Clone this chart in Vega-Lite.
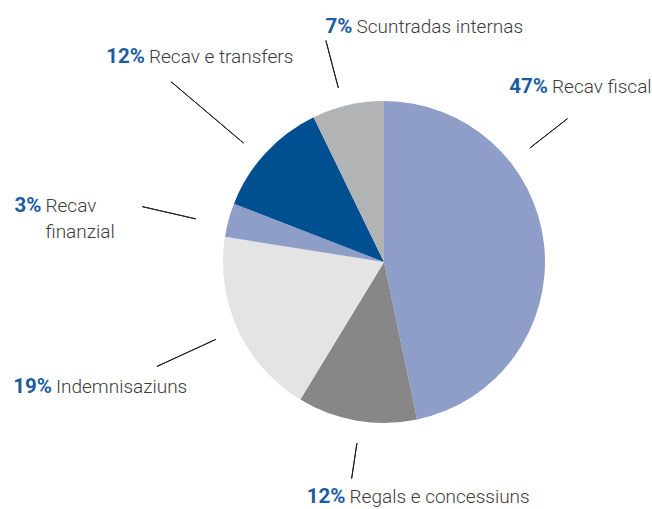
{
  "$schema": "https://vega.github.io/schema/vega-lite/v6.json",
  "width": 536,
  "height": 494,
  "autosize": {"type": "none"},
  "padding": {"left": 116, "top": 15, "right": 0, "bottom": 0},
  "background": "white",
  "view": {"stroke": null},
  "data": {
    "values": [
      {"order": 1, "name": "Recav fiscal", "label": "Recav fiscal", "share": 0.467},
      {"order": 2, "name": "Regals e concessiuns", "label": "Regals e concessiuns", "share": 0.120},
      {"order": 3, "name": "Indemnisaziuns", "label": "Indemnisaziuns", "share": 0.188},
      {"order": 4, "name": "Recav finanzial", "label": "Recav\nfinanzial", "share": 0.034},
      {"order": 5, "name": "Recav e transfers", "label": "Recav e transfers", "share": 0.119},
      {"order": 6, "name": "Scuntradas internas", "label": "Scuntradas internas", "share": 0.072}
    ]
  },
  "encoding": {
    "theta": {"field": "share", "type": "quantitative", "stack": true},
    "order": {"field": "order", "type": "quantitative"},
    "detail": {"field": "name", "type": "nominal"}
  },
  "layer": [
    {
      "mark": {"type": "arc", "outerRadius": 161},
      "encoding": {
        "color": {
          "field": "name",
          "type": "nominal",
          "legend": null,
          "scale": {
            "domain": ["Recav fiscal", "Regals e concessiuns", "Indemnisaziuns", "Recav finanzial", "Recav e transfers", "Scuntradas internas"],
            "range": ["#8e9ec9", "#878787", "#e4e4e4", "#8e9ec9", "#004f91", "#b2b3b5"]
          }
        }
      }
    },
    {
      "mark": {
        "type": "arc",
        "fill": "transparent",
        "stroke": "#1e1e1e",
        "strokeWidth": 1,
        "padAngle": 3.14159,
        "innerRadius": {"expr": "[185, 183, 185, 193, 184, 180][datum.order - 1]"},
        "outerRadius": {"expr": "[233, 219, 250, 248, 279, 229][datum.order - 1]"},
        "thetaOffset": {"expr": "[-0.5596, -0.0213, 0.0024, -0.0387, -0.0420, -0.0304][datum.order - 1]"},
        "theta2Offset": {"expr": "[-0.5596, -0.0213, 0.0024, -0.0387, -0.0420, -0.0304][datum.order - 1]"}
      }
    },
    {
      "mark": {
        "type": "text",
        "align": "right",
        "baseline": "alphabetic",
        "font": "Roboto",
        "fontWeight": "bold",
        "fontSize": 20.5,
        "color": "#1b5c9e",
        "dx": -2,
        "radius": {"expr": "[236.9, 243.7, 355.1, 344.2, 309.5, 230.9][datum.order - 1]"},
        "thetaOffset": {"expr": "[-0.6906, -0.0194, 0.0557, -0.1182, -0.0461, 0.0981][datum.order - 1]"}
      },
      "encoding": {
        "text": {"field": "share", "type": "quantitative", "format": ".0%"}
      }
    },
    {
      "mark": {
        "type": "text",
        "align": "left",
        "baseline": "alphabetic",
        "font": "Roboto",
        "fontWeight": 300,
        "fontSize": 19,
        "color": "#3c3c3c",
        "lineBreak": "\n",
        "lineHeight": 26,
        "dx": 2,
        "radius": {"expr": "[236.9, 243.7, 355.1, 344.2, 309.5, 230.9][datum.order - 1]"},
        "thetaOffset": {"expr": "[-0.6906, -0.0194, 0.0557, -0.1182, -0.0461, 0.0981][datum.order - 1]"}
      },
      "encoding": {
        "text": {"field": "label", "type": "nominal"}
      }
    }
  ]
}
